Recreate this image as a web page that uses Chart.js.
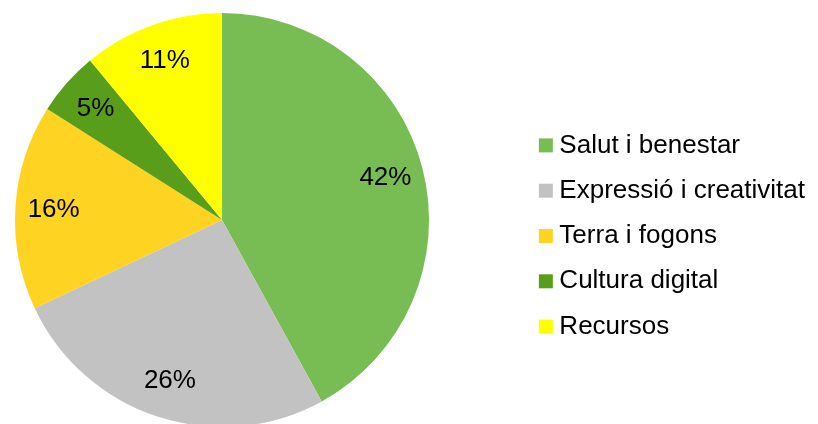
<!DOCTYPE html>
<html>
<head>
<meta charset="utf-8">
<script src="https://cdn.jsdelivr.net/npm/chart.js@4.4.0/dist/chart.umd.min.js"></script>
<style>
    html, body { margin: 0; padding: 0; background: #fff; overflow: hidden; }
    /* canvas is a bit wider and taller than the window: the pie sits left of centre and is cut at the bottom */
    .chart-wrap { position: relative; width: 900px; height: 440px; margin-left: -82px; }
</style>
</head>
<body>
<div class="chart-wrap"><canvas id="pie-chart"></canvas></div>
<script>
const categories = ['Salut i benestar', 'Expressió i creativitat', 'Terra i fogons', 'Cultura digital', 'Recursos'];
const percentages = [42, 26, 16, 5, 11];
const sliceColors = ['#78BD53', '#C3C2C3', '#FFD321', '#589E1A', '#FFFF00'];

document.addEventListener('DOMContentLoaded', () => {
    const ctx = document.getElementById('pie-chart').getContext('2d');

    Chart.defaults.font.family = "'Liberation Sans', Arial, sans-serif";

    // percentage text inside each slice
    const sliceLabels = {
        id: 'sliceLabels',
        afterDatasetsDraw(chart) {
            const c = chart.ctx;
            const meta = chart.getDatasetMeta(0);
            c.save();
            c.font = "26px 'Liberation Sans', Arial, sans-serif";
            c.fillStyle = '#000';
            c.textAlign = 'center';
            c.textBaseline = 'middle';
            meta.data.forEach((arc, i) => {
                const { x, y, startAngle, endAngle, outerRadius } =
                    arc.getProps(['x', 'y', 'startAngle', 'endAngle', 'outerRadius'], true);
                const mid = (startAngle + endAngle) / 2;
                const r = outerRadius * 0.815;
                c.fillText(percentages[i] + '%', x + Math.cos(mid) * r, y + Math.sin(mid) * r);
            });
            c.restore();
        }
    };

    new Chart(ctx, {
        type: 'pie',
        data: {
            labels: categories,
            datasets: [{
                data: percentages,
                backgroundColor: sliceColors,
                borderWidth: 0,
                hoverOffset: 0
            }]
        },
        options: {
            responsive: true,
            maintainAspectRatio: false,
            animation: false,
            devicePixelRatio: 1,
            layout: {
                padding: { left: 0, right: 3, top: 13, bottom: 13 }
            },
            plugins: {
                legend: {
                    position: 'right',
                    // empty title only pushes the items down a little
                    title: { display: true, text: ' ', padding: 10, font: { size: 10 } },
                    labels: {
                        usePointStyle: true,
                        pointStyle: 'rect',
                        boxWidth: 1,
                        boxHeight: 14,
                        padding: 19.3,
                        color: '#000',
                        font: { size: 26 }
                    }
                },
                tooltip: { enabled: false }
            }
        },
        plugins: [sliceLabels]
    });
});
</script>
</body>
</html>
